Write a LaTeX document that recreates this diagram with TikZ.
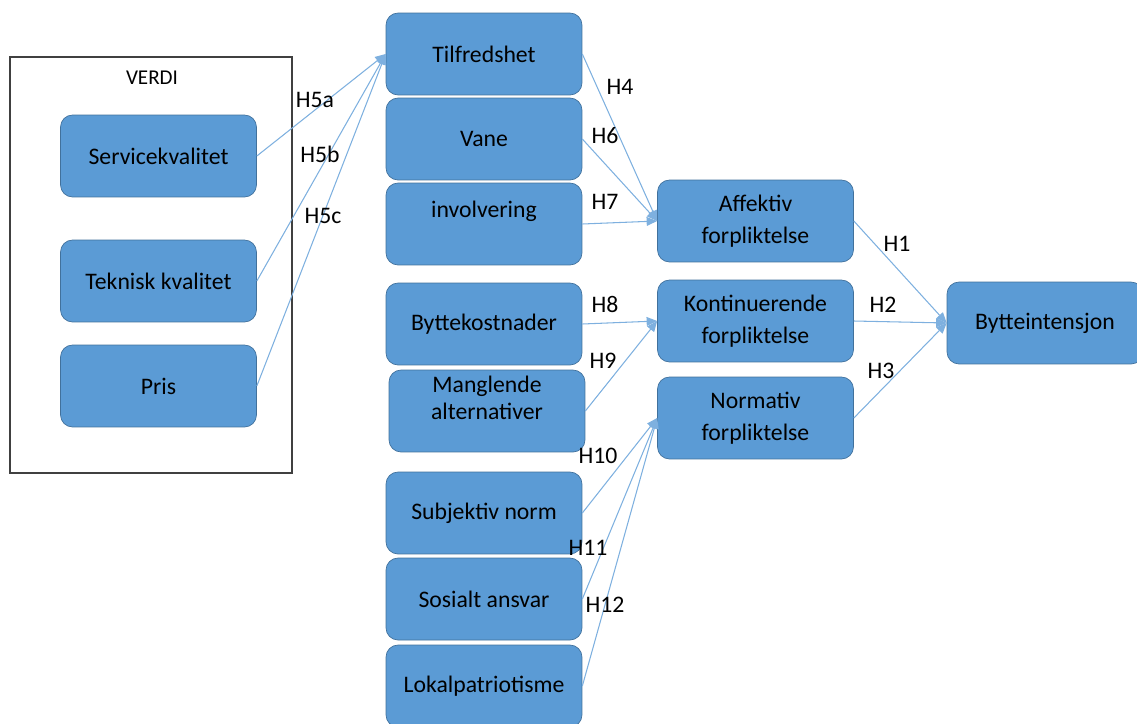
\documentclass[tikz,border=0pt]{standalone}
\usepackage{fontspec}
\setmainfont{Carlito}
\usetikzlibrary{arrows.meta}
\definecolor{boxblue}{HTML}{5B9BD5}
\definecolor{boxedge}{HTML}{41719C}
\definecolor{linkblue}{HTML}{7EB0DF}
\begin{document}
\begin{tikzpicture}[x=0.02cm,y=-0.02cm,
        factor/.style={draw=boxedge, fill=boxblue, rounded corners=0.24cm,
            minimum width=3.92cm, minimum height=1.64cm, align=center,
            inner sep=1pt, font=\fontsize{13.5}{16.5}\selectfont},
        link/.style={draw=linkblue, line width=0.6pt,
            -{Triangle[length=6pt,width=5pt]}},
        hyp/.style={font=\fontsize{13.5}{16.5}\selectfont, inner sep=0pt}]
        \useasboundingbox (0,0) rectangle (1137,724);

        % VERDI group
        \node[draw=black!75, line width=0.8pt, minimum width=5.64cm, minimum height=8.32cm] (verdi) at (151,265) {};
        \node[font=\fontsize{12}{14}\selectfont] (verditxt) at (152,78) {VERDI};
        \node[factor] (serv)  at (158.5,156) {Servicekvalitet};
        \node[factor] (tekn)  at (158.5,281) {Teknisk kvalitet};
        \node[factor] (pris)  at (158.5,386) {Pris};

        % antecedents
        \node[factor] (tilf)  at (484,54)  {Tilfredshet};
        \node[factor] (vane)  at (484,139) {Vane};
        \node[factor] (invo)  at (484,224) {involvering\\\mbox{}};
        \node[factor] (bytk)  at (484,324) {Byttekostnader};
        \node[factor] (mang)  at (487,411) {Manglende\\[-1pt]alternativer\\[-1pt]\mbox{}};
        \node[factor] (subj)  at (484,513) {Subjektiv norm};
        \node[factor] (sosi)  at (484,599) {Sosialt ansvar};
        \node[factor] (lokal) at (484,686) {Lokalpatriotisme};

        % commitment
        \node[factor] (affe)  at (755.5,221) {Affektiv\\[2pt]forpliktelse};
        \node[factor] (kont)  at (755.5,321) {Kontinuerende\\[2pt]forpliktelse};
        \node[factor] (norm)  at (755.5,418) {Normativ\\[2pt]forpliktelse};

        \node[factor] (bytt)  at (1045,323) {Bytteintensjon};

        % connectors
        \draw[link] (serv.east) -- (tilf.west);
        \draw[link] (tekn.east) -- (tilf.west);
        \draw[link] (pris.east) -- (tilf.west);

        \draw[link] (tilf.east) -- (affe.west);
        \draw[link] (vane.east) -- (affe.west);
        \draw[link] (invo.east) -- (affe.west);

        \draw[link] (bytk.east) -- (kont.west);
        \draw[link] (mang.east) -- (kont.west);

        \draw[link] (subj.east)  -- (norm.west);
        \draw[link] (sosi.east)  -- (norm.west);
        \draw[link] (lokal.east) -- (norm.west);

        \draw[link] (affe.east) -- (bytt.west);
        \draw[link] (kont.east) -- (bytt.west);
        \draw[link] (norm.east) -- (bytt.west);

        % hypothesis labels
        \node[hyp] (h5a) at (315,100) {H5a};
        \node[hyp] (h5b) at (320,154) {H5b};
        \node[hyp] (h5c) at (323,216) {H5c};
        \node[hyp] (h4)  at (620,87)  {H4};
        \node[hyp] (h6)  at (605,136) {H6};
        \node[hyp] (h7)  at (605,202) {H7};
        \node[hyp] (h8)  at (605,304) {H8};
        \node[hyp] (h9)  at (603,361) {H9};
        \node[hyp] (h10) at (598,456) {H10};
        \node[hyp] (h11) at (588,548) {H11};
        \node[hyp] (h12) at (605,605) {H12};
        \node[hyp] (h1)  at (897,244) {H1};
        \node[hyp] (h2)  at (883,305) {H2};
        \node[hyp] (h3)  at (881,371) {H3};
    \end{tikzpicture}
\end{document}
